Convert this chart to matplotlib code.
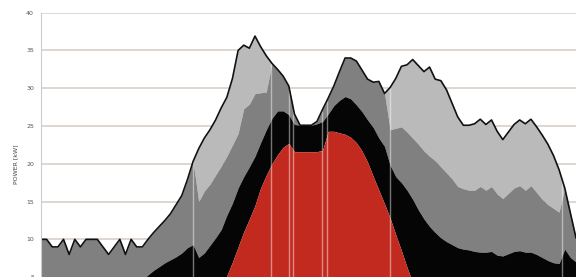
import numpy as np
import matplotlib
matplotlib.use("Agg")
import matplotlib.pyplot as plt

# 15-min steps over a day
t = np.arange(96)

# cumulative levels (kW)
total = [10, 10, 9, 9, 10, 8, 10, 9, 10, 10, 10, 9, 8, 9, 10, 8, 10, 9, 9, 10,
         10.9, 11.7, 12.5, 13.4, 14.6, 15.8, 17.9, 20.3, 22.0, 23.4, 24.5, 25.8, 27.4, 28.8, 31.3, 35.0,
         35.7, 35.3, 36.9, 35.5, 34.3, 33.3, 32.5, 31.6, 30.3, 26.6, 25.1, 25.1, 25.1, 25.6,
         27.2, 28.7, 30.3, 32.2, 34.0, 34.0, 33.6, 32.4, 31.2, 30.8, 30.9, 29.3, 30.1, 31.3,
         32.9, 33.1, 33.8, 33.0, 32.2, 32.8, 31.2, 31.0, 29.8, 28.0, 26.2, 25.1, 25.1, 25.3,
         25.9, 25.2, 25.8, 24.3, 23.2, 24.2, 25.2, 25.8, 25.3, 25.9, 24.9, 23.8, 22.6, 21.1,
         19.2, 16.8, 13.5, 10.2]

dark_top = total[:28] + [
    15.0, 16.4, 17.3, 18.5, 19.7, 21.0, 22.5, 24.0, 27.3, 27.9, 29.3, 29.4, 29.5] + total[41:62] + [
    24.5, 24.7, 24.9, 24.2, 23.4, 22.6, 21.7, 21.0, 20.4, 19.6, 18.8, 18.0, 17.0, 16.7,
    16.5, 16.5, 17.0, 16.5, 17.0, 16.0, 15.4, 16.1, 16.8, 17.1, 16.5, 17.1, 16.2, 15.3,
    14.6, 14.1, 13.6] + total[93:]

black_top = [3.0] * 18 + [
    4.6, 5.3, 5.9, 6.4, 6.9, 7.3, 7.7, 8.2, 8.9, 9.3, 7.6, 8.2, 9.2, 10.2, 11.3, 13.2,
    14.8, 16.8, 18.3, 19.6, 21.0, 22.8, 24.5, 26.0, 27.0, 27.0, 26.5, 25.2, 25.1, 25.1,
    25.1, 25.3, 25.6, 26.6, 27.7, 28.4, 28.9, 28.6, 27.8, 26.9, 25.8, 24.8, 23.4, 22.3,
    19.8, 18.3, 17.5, 16.5, 15.3, 13.9, 12.7, 11.7, 10.9, 10.2, 9.7, 9.3, 8.9, 8.7, 8.6,
    8.4, 8.3, 8.3, 8.4, 7.9, 7.8, 8.1, 8.4, 8.5, 8.3, 8.3, 8.0, 7.6, 7.2, 6.9, 6.8, 8.7,
    7.6, 7.0]

red_top = [0] * 30 + [
    0.5, 1.8, 3.5, 5.2, 7.0, 9.0, 11.0, 12.7, 14.5, 16.8, 18.5, 20.0, 21.2, 22.2, 22.7,
    21.6, 21.6, 21.6, 21.6, 21.6, 21.8, 24.3, 24.3, 24.1, 23.9, 23.5, 22.8, 21.7, 20.2,
    18.3, 16.5, 14.7, 12.8, 10.6, 8.5, 6.3, 4.2, 2.0, 0.3] + [0] * 27

# where the profile switches (time steps)
breaks = [27.0, 40.8, 44.0, 44.8, 49.9, 50.7, 62.0, 92.5]

total = np.array(total)
dark_top = np.array(dark_top)
black_top = np.array(black_top)
red_top = np.array(red_top)

fig = plt.figure(figsize=(5.76, 2.77), dpi=100)
ax = fig.add_axes([41 / 576, -0.1368, 535 / 576, 1.091])

ax.fill_between(t, dark_top, total, color="#bababa", lw=0)
ax.fill_between(t, black_top, dark_top, color="#808080", lw=0)
ax.fill_between(t, red_top, black_top, color="#050505", lw=0)
ax.fill_between(t, 0, red_top, color="#c22a20", lw=0)

ax.vlines(breaks, 0, np.interp(breaks, t, total), color="white", alpha=0.45, lw=1)
ax.plot(t, total, color="#111111", lw=1.2)

ax.set_xlim(0, 95)
ax.set_ylim(0, 40)
ax.set_yticks(range(0, 41, 5))
ax.set_xticks([])
ax.grid(axis="y", color="#d8cfca", lw=1.2)
ax.set_axisbelow(True)
for s in ["top", "right", "bottom"]:
    ax.spines[s].set_visible(False)
ax.spines["left"].set_color("#cccccc")
ax.tick_params(axis="y", length=0, labelsize=4.5, labelcolor="#555555", pad=5)
ax.set_ylabel("POWER [kW]", fontsize=4.5, color="#444444", labelpad=6)

fig.savefig("out.png", dpi=100)
